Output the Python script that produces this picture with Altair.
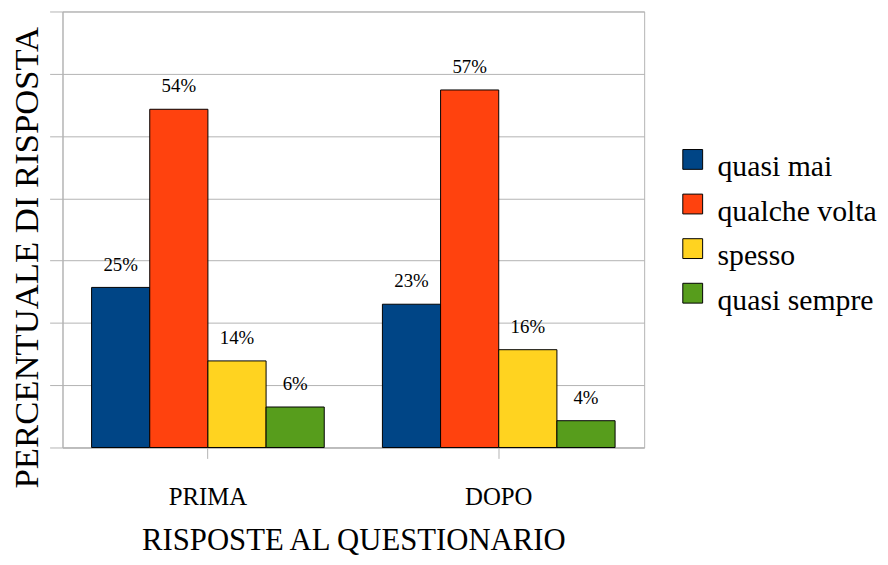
import altair as alt
import pandas as pd

# ---- data ----
phases = ["PRIMA", "DOPO"]
answers = ["quasi mai", "qualche volta", "spesso", "quasi sempre"]
colors = ["#004586", "#ff420e", "#ffd320", "#579d1c"]

values_prima = [25.7, 54.3, 13.9, 6.5]
values_dopo = [23.0, 57.4, 15.7, 4.3]
labels_prima = ["25%", "54%", "14%", "6%"]
labels_dopo = ["23%", "57%", "16%", "4%"]

y_ticks = [0, 10, 20, 30, 40, 50, 60, 70]

rows = []
for ph, vals, labs in [("PRIMA", values_prima, labels_prima), ("DOPO", values_dopo, labels_dopo)]:
    for a, v, l in zip(answers, vals, labs):
        rows.append({"fase": ph, "risposta": a, "valore": v, "etichetta": l})
df = pd.DataFrame(rows)

FONT = "Liberation Serif"
GRID = "#b3b3b3"

x_enc = alt.X(
    "fase:N",
    sort=phases,
    scale=alt.Scale(paddingInner=0.2, paddingOuter=0.1),
    axis=alt.Axis(
        title="RISPOSTE AL QUESTIONARIO",
        labelAngle=0,
        labelFont=FONT,
        labelFontSize=25,
        labelColor="black",
        labelPadding=27,
        tickSize=11,
        tickColor=GRID,
        domainColor=GRID,
        grid=False,
        titleFont=FONT,
        titleFontSize=31,
        titleFontWeight="normal",
        titleColor="black",
        titleBaseline="top",
        titleY=79,
    ),
)
xoff_enc = alt.XOffset("risposta:N", sort=answers, scale=alt.Scale(paddingInner=0, paddingOuter=0))
y_enc = alt.Y(
    "valore:Q",
    scale=alt.Scale(domain=[0, 70], nice=False),
    axis=alt.Axis(
        values=y_ticks,
        labels=False,
        tickSize=13,
        tickColor=GRID,
        gridColor=GRID,
        domainColor=GRID,
        title="PERCENTUALE DI RISPOSTA",
        titleFont=FONT,
        titleFontSize=35,
        titleFontWeight="normal",
        titleColor="black",
        titleAngle=270,
        titleAlign="center",
        titleBaseline="middle",
        titleX=-36,
        titleY=248,
    ),
)

legend = alt.Legend(
    title=None,
    orient="none",
    legendX=621,
    legendY=142,
    padding=0,
    symbolType="M-1,-1.77H1V0.23H-1Z",
    symbolSize=400,
    symbolStrokeColor="black",
    symbolStrokeWidth=1,
    symbolOpacity=1,
    labelFont=FONT,
    labelFontSize=30,
    labelColor="black",
    labelOffset=10,
    labelLimit=400,
    rowPadding=10,
)

bars = alt.Chart(df).mark_bar(stroke="black", strokeWidth=1).encode(
    x=x_enc,
    xOffset=xoff_enc,
    y=y_enc,
    color=alt.Color("risposta:N", sort=answers,
                    scale=alt.Scale(domain=answers, range=colors), legend=legend),
)

texts = alt.Chart(df).mark_text(
    dy=-17, baseline="alphabetic", font=FONT, fontSize=19, color="black"
).encode(
    x=alt.X("fase:N", sort=phases),
    xOffset=alt.XOffset("risposta:N", sort=answers),
    y=alt.Y("valore:Q"),
    text="etichetta:N",
)

chart = (
    alt.layer(bars, texts)
    .properties(
        width=587,
        height=440,
        autosize=alt.AutoSizeParams(type="none"),
        padding={"left": 55, "top": 1, "right": 238, "bottom": 108},
        background="white",
    )
    .configure_view(stroke=GRID, strokeWidth=1)
)

chart.save("out.html", embed_options={"renderer": "svg", "actions": False})
